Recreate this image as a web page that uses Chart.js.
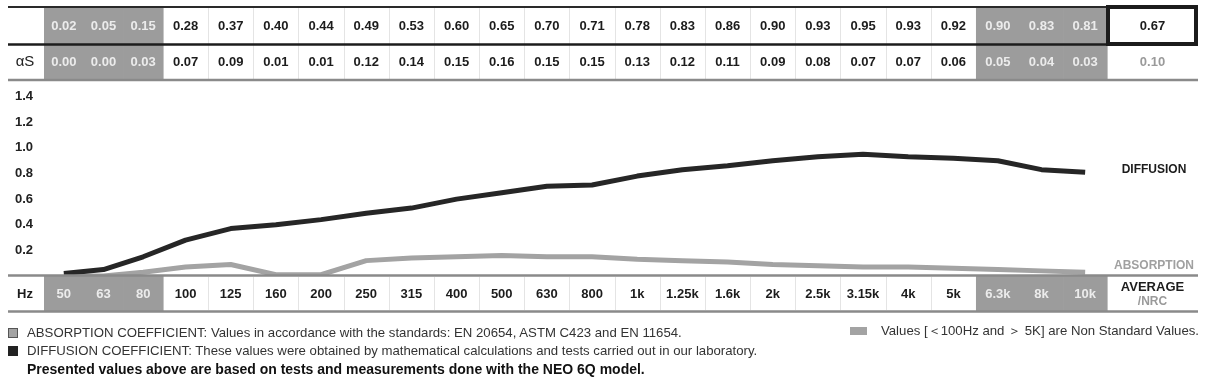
<!DOCTYPE html>
<html>
<head>
<meta charset="utf-8">
<script src="https://cdn.jsdelivr.net/npm/chart.js@4.4.1/dist/chart.umd.min.js"></script>
<style>
  body { margin: 0; background: #fff; font-family: "Liberation Sans", Arial, sans-serif; }
  #wrap { position: relative; width: 1205px; height: 381px; }
  .note { position: absolute; font-size: 13.2px; line-height: 18px; color: #333; white-space: nowrap; }
  .sq { position: absolute; box-sizing: border-box; }
</style>
</head>
<body>
<div id="wrap">
  <canvas id="chart" width="1205" height="381"></canvas>
  <div class="sq" style="left:8px;top:328px;width:10px;height:10px;background:#a3a3a3;border:1px solid #555"></div>
  <div class="note" style="left:27px;top:324px">ABSORPTION COEFFICIENT: Values in accordance with the standards: EN 20654, ASTM C423 and EN 11654.</div>
  <div class="sq" style="left:8px;top:346px;width:10px;height:10px;background:#222"></div>
  <div class="note" style="left:27px;top:342px">DIFFUSION COEFFICIENT: These values were obtained by mathematical calculations and tests carried out in our laboratory.</div>
  <div class="note" style="left:27px;top:360px;font-size:14px;font-weight:bold;color:#111">Presented values above are based on tests and measurements done with the NEO 6Q model.</div>
  <div class="sq" style="left:850px;top:327px;width:17px;height:8px;background:#a3a3a3"></div>
  <div class="note" style="right:6px;top:322px">Values [&#xFF1C;100Hz and &#xFF1E; 5K] are Non Standard Values.</div>
</div>
<script>
const freqs = ['50', '63', '80', '100', '125', '160', '200', '250', '315', '400', '500', '630',
  '800', '1k', '1.25k', '1.6k', '2k', '2.5k', '3.15k', '4k', '5k', '6.3k', '8k', '10k'];
const diffusion = [0.02, 0.05, 0.15, 0.28, 0.37, 0.40, 0.44, 0.49, 0.53, 0.60, 0.65, 0.70,
  0.71, 0.78, 0.83, 0.86, 0.90, 0.93, 0.95, 0.93, 0.92, 0.90, 0.83, 0.81];
const absorption = [0.00, 0.00, 0.03, 0.07, 0.09, 0.01, 0.01, 0.12, 0.14, 0.15, 0.16, 0.15,
  0.15, 0.13, 0.12, 0.11, 0.09, 0.08, 0.07, 0.07, 0.06, 0.05, 0.04, 0.03];
const nonStandard = freqs.map((f, i) => i < 3 || i > 20);
const avgDiffusion = 0.67;
const nrcAbsorption = 0.10;
const yTicks = [0.2, 0.4, 0.6, 0.8, 1.0, 1.2, 1.4];

// column widths: the non standard columns are drawn a bit narrower
const colWidth = freqs.map((f, i) => i < 3 ? 0.878 : (i > 20 ? 0.967 : 1));
const edges = [0];
colWidth.forEach(w => edges.push(edges[edges.length - 1] + w));
const centers = colWidth.map((w, i) => edges[i] + w / 2);

const GRAY = '#9c9c9c';
const DARK = '#1c1c1c';
const RULE = '#8a8a8a';
const FONT = '"Liberation Sans", Arial, sans-serif';

const tablePlugin = {
  id: 'table',
  beforeDraw(chart) {
    const { ctx, scales: { x } } = chart;
    ctx.save();
    ctx.fillStyle = GRAY;
    nonStandard.forEach((ns, i) => {
      if (!ns) return;
      const l = x.getPixelForValue(edges[i]);
      const r = x.getPixelForValue(edges[i + 1]);
      ctx.fillRect(l, 7, r - l + 0.6, 73);
      ctx.fillRect(l, 276, r - l + 0.6, 35);
    });
    // thin separators between standard columns
    ctx.strokeStyle = '#e4e4e4';
    ctx.lineWidth = 1;
    for (let i = 1; i < freqs.length; i++) {
      if (nonStandard[i] || nonStandard[i - 1]) continue;
      const px = Math.round(x.getPixelForValue(edges[i])) + 0.5;
      ctx.beginPath();
      ctx.moveTo(px, 8); ctx.lineTo(px, 79);
      ctx.moveTo(px, 277); ctx.lineTo(px, 310);
      ctx.stroke();
    }
    ctx.restore();
  },
  afterDraw(chart) {
    const { ctx, scales: { x } } = chart;
    const right = x.getPixelForValue(edges[edges.length - 1]);
    const avgX = (right + 1198) / 2;
    ctx.save();

    const hline = (y, x1, x2, color, w) => {
      ctx.strokeStyle = color; ctx.lineWidth = w;
      ctx.beginPath(); ctx.moveTo(x1, y); ctx.lineTo(x2, y); ctx.stroke();
    };
    hline(7, 8, right, '#2a2a2a', 2);
    hline(44.5, 8, right, DARK, 2.5);
    hline(80, 8, 1198, RULE, 2.5);
    hline(275.5, 8, 1198, RULE, 2.5);
    hline(311.5, 8, 1198, RULE, 2.5);

    ctx.strokeStyle = DARK;
    ctx.lineWidth = 4;
    ctx.strokeRect(right + 1, 7, 1196 - right - 1, 37);

    ctx.textAlign = 'center';
    ctx.textBaseline = 'middle';
    ctx.font = 'bold 13px ' + FONT;
    freqs.forEach((f, i) => {
      const cx = x.getPixelForValue(centers[i]);
      ctx.fillStyle = nonStandard[i] ? '#ececec' : DARK;
      ctx.fillText(diffusion[i].toFixed(2), cx, 26);
      ctx.fillText(absorption[i].toFixed(2), cx, 62);
    });
    ctx.fillStyle = DARK;
    ctx.fillText(avgDiffusion.toFixed(2), avgX, 26);
    ctx.fillStyle = '#9a9a9a';
    ctx.fillText(nrcAbsorption.toFixed(2), avgX, 62);

    ctx.fillStyle = DARK;
    ctx.fillText('Hz', 25, 294);
    ctx.fillText('AVERAGE', avgX, 287);
    ctx.font = 'bold 12px ' + FONT;
    ctx.fillStyle = '#9a9a9a';
    ctx.fillText('/NRC', avgX, 302);

    ctx.font = 'bold 12px ' + FONT;
    ctx.fillStyle = DARK;
    ctx.fillText('DIFFUSION', 1154, 170);
    ctx.fillStyle = '#a0a0a0';
    ctx.fillText('ABSORPTION', 1154, 266);

    ctx.font = '15px ' + FONT;
    ctx.fillStyle = '#222';
    ctx.fillText('\u03b1S', 25, 62);
    ctx.restore();
  }
};

new Chart(document.getElementById('chart'), {
  type: 'line',
  data: {
    datasets: [
      {
        label: 'Diffusion',
        data: diffusion.map((v, i) => ({ x: centers[i], y: v })),
        borderColor: '#262626',
        borderWidth: 5,
        pointRadius: 0,
        tension: 0,
        borderJoinStyle: 'round'
      },
      {
        label: 'Absorption',
        data: absorption.map((v, i) => ({ x: centers[i], y: v })),
        borderColor: '#a3a3a3',
        borderWidth: 5,
        pointRadius: 0,
        tension: 0,
        borderJoinStyle: 'round'
      }
    ]
  },
  options: {
    responsive: false,
    animation: false,
    layout: { padding: { left: 8, right: 98, top: 80, bottom: 69 } },
    plugins: { legend: { display: false }, tooltip: { enabled: false } },
    scales: {
      x: {
        type: 'linear',
        min: 0,
        max: edges[edges.length - 1],
        grid: { display: false, drawTicks: false },
        border: { display: false },
        afterBuildTicks: s => { s.ticks = centers.map(v => ({ value: v })); },
        afterFit: s => { s.height = 36; },
        ticks: {
          autoSkip: false,
          maxRotation: 0,
          padding: 11,
          font: { family: FONT, size: 13, weight: 'bold' },
          color: c => nonStandard[c.index] ? '#ececec' : DARK,
          callback: (v, i) => freqs[i]
        }
      },
      y: {
        min: 0,
        max: 1.53,
        grid: { display: false, drawTicks: false },
        border: { display: false },
        afterBuildTicks: s => { s.ticks = yTicks.map(v => ({ value: v })); },
        afterFit: s => { s.width = 36; },
        ticks: {
          padding: 11,
          font: { family: FONT, size: 13, weight: 'bold' },
          color: '#222',
          callback: v => v.toFixed(1)
        }
      }
    }
  },
  plugins: [tablePlugin]
});
</script>
</body>
</html>
